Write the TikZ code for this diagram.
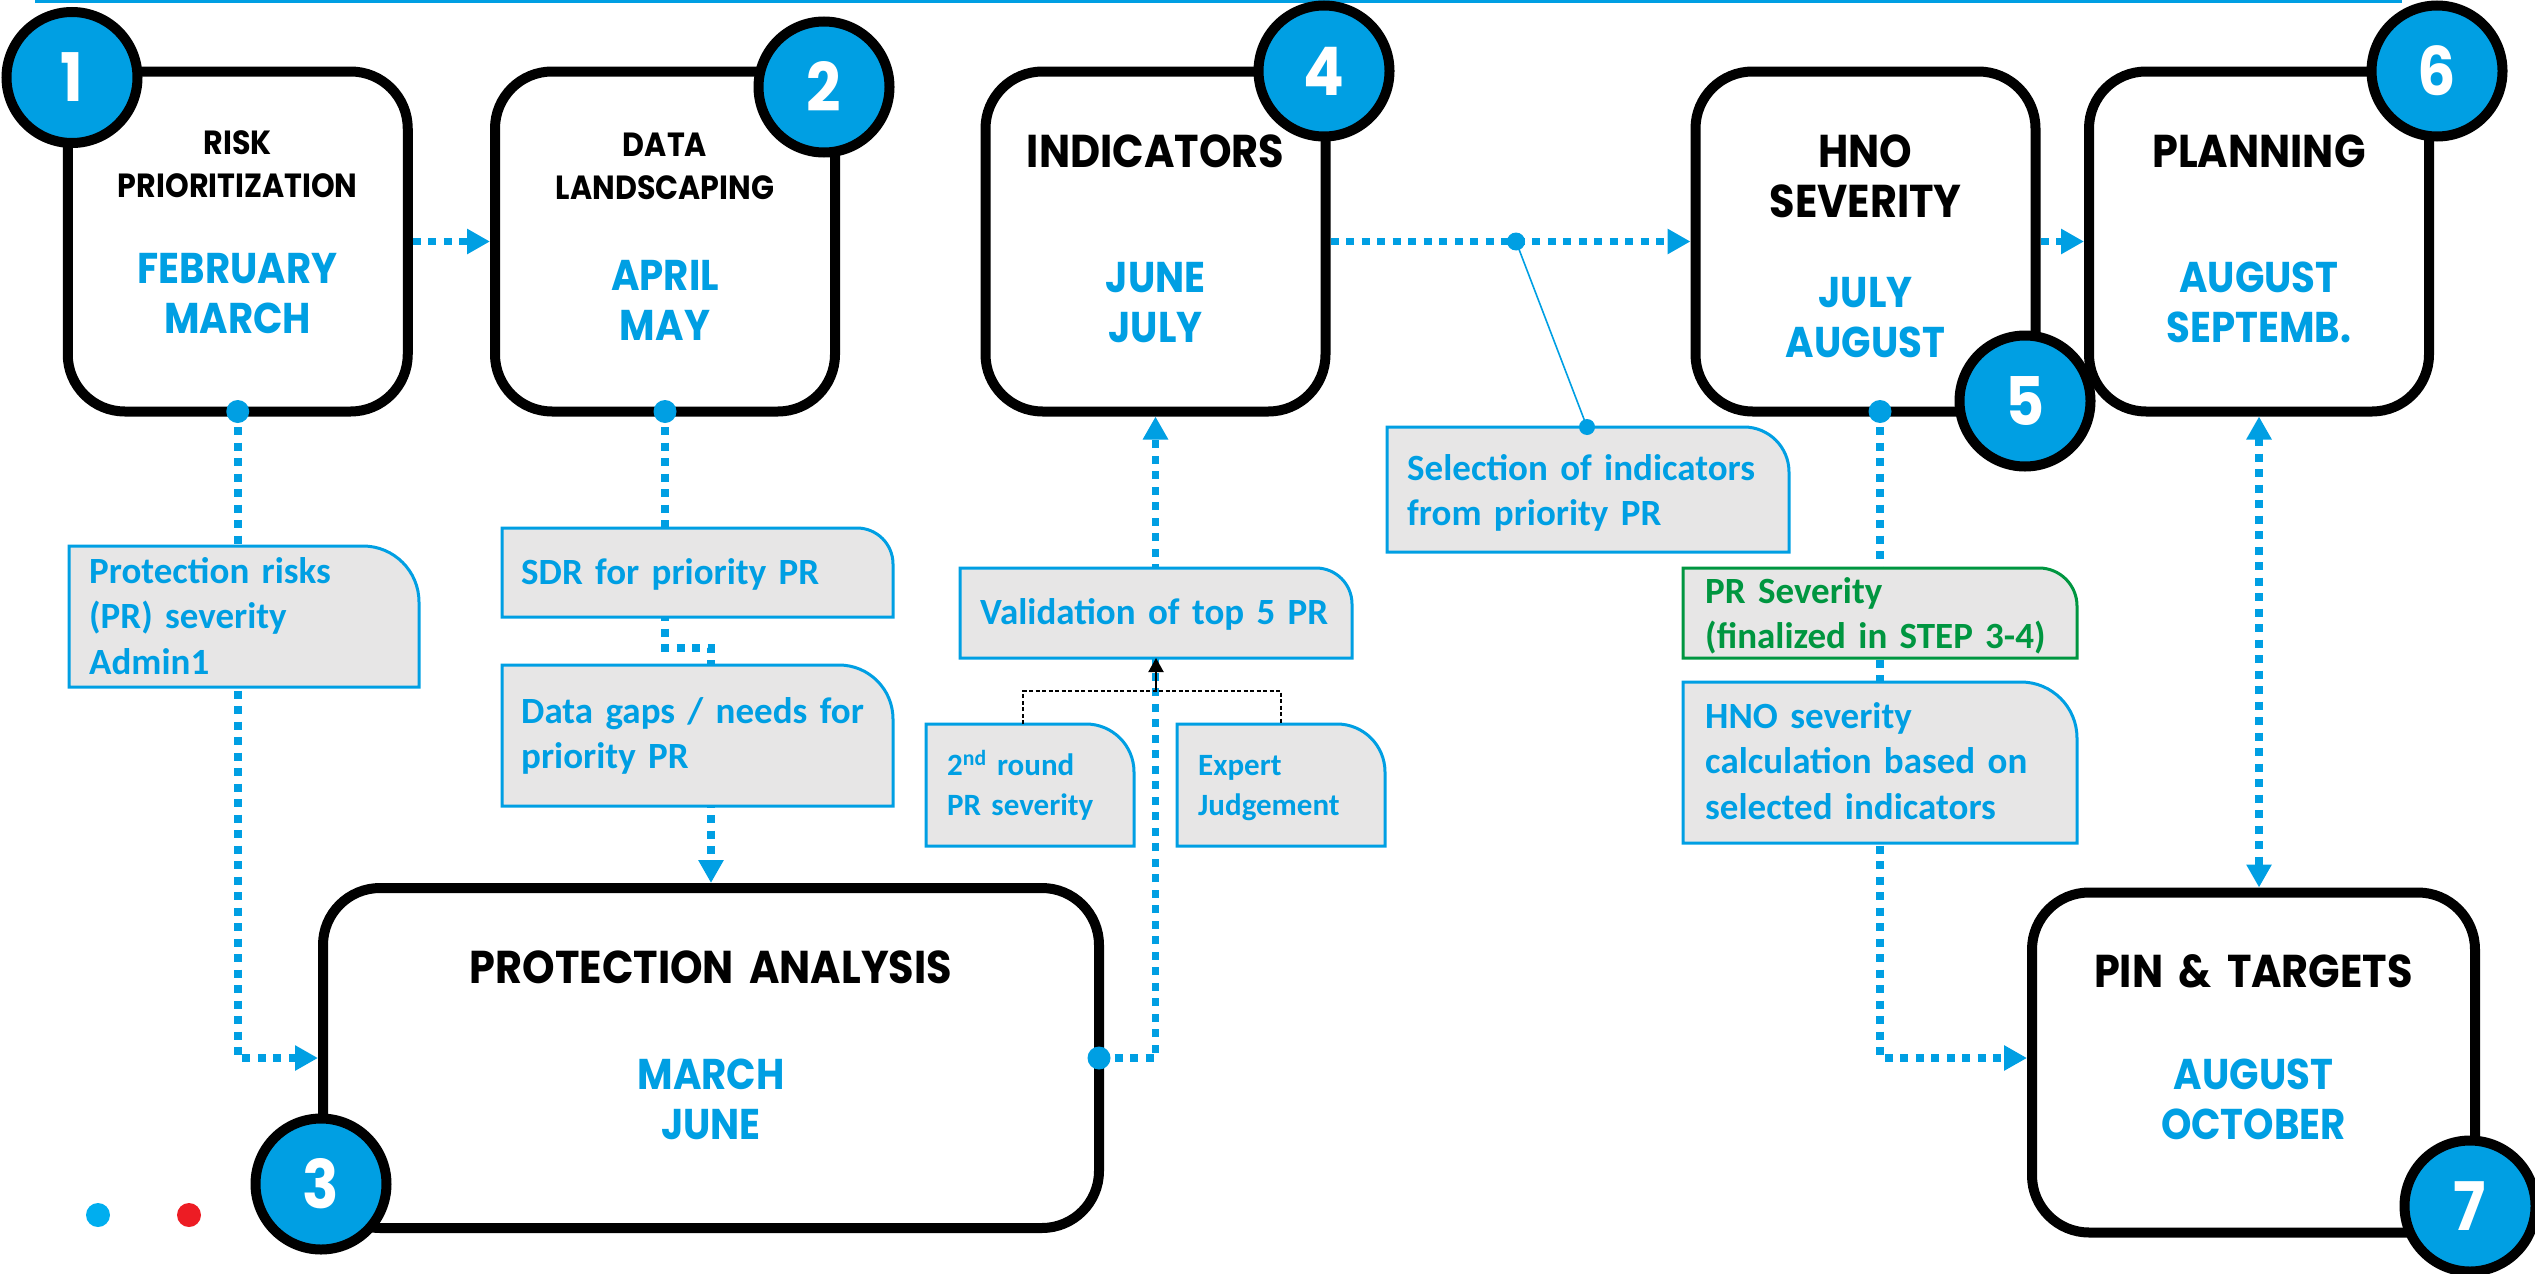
\documentclass[tikz,border=0pt]{standalone}
\usepackage{fontspec}
\usetikzlibrary{arrows.meta,calc}
\newfontfamily\headfont[FakeStretch=0.9]{Poppins}
\newfontfamily\callfont{Carlito}
\definecolor{cblue}{RGB}{0,159,227}
\definecolor{cgray}{RGB}{231,230,230}
\definecolor{cgreen}{RGB}{0,150,64}
\definecolor{lblue}{RGB}{0,174,239}
\definecolor{lred}{RGB}{237,28,36}
\newcommand\callshape[3]{%
  \filldraw[draw=#1, fill=cgray, line width=3pt] (#2.south west) -- (#2.north west) -- ([xshift=-#3 pt]#2.north east) arc[start angle=90, end angle=0, radius=#3 pt] -- (#2.south east) -- cycle;}
\tikzset{
  stage/.style={draw=black, fill=white, line width=10pt, rounded corners=57pt, minimum width=340pt, minimum height=340pt, inner sep=0pt},
  numc/.style={circle, draw=black, fill=cblue, line width=10pt, minimum size=131pt, inner sep=0pt, text=white, font=\headfont\bfseries\fontsize{67}{67}\selectfont},
  ttl/.style={anchor=base, text width=330pt, align=center, inner sep=0pt, font=\headfont\bfseries\fontsize{46}{50}\selectfont},
  ttlsm/.style={ttl, font=\headfont\bfseries\fontsize{33.5}{43}\selectfont},
  mon/.style={ttl, text=cblue, font=\headfont\bfseries\fontsize{43}{50}\selectfont},
  flow/.style={draw=cblue, line width=7.5pt, dash pattern=on 8pt off 7.5pt},
  tip/.style={-{Triangle[length=23pt,width=24pt]}},
  cbox/.style={inner sep=0pt, outer sep=0pt},
  ctext/.style={anchor=base west, text width=400pt, align=left, inner sep=0pt, text=cblue, font=\callfont\bfseries\fontsize{37}{45.5}\selectfont},
  csmall/.style={ctext, font=\callfont\bfseries\fontsize{31}{40}\selectfont},
  dot/.style={circle, fill=cblue, inner sep=0pt, minimum size=23pt},
  blkdash/.style={draw=black, line width=1.3pt, dash pattern=on 4pt off 2.5pt},
}
\begin{document}
\begin{tikzpicture}[x=1pt,y=1pt]
\useasboundingbox (0,0) rectangle (2535,-1274);
\coordinate (tl) at (35,-1.5);
\coordinate (tr) at (2402,-1.5);
\draw[cblue, line width=3pt] (tl) -- (tr);

% stage boxes
\node[stage] (box1) at (237.75,-241.5) {};
\node[stage] (box2) at (665,-241.5) {};
\node[stage, minimum width=776pt] (box3) at (711,-1058) {};
\node[stage] (box4) at (1155.5,-241.5) {};
\node[stage] (box5) at (1865.5,-241.5) {};
\node[stage] (box6) at (2259,-241.5) {};
\node[stage, minimum width=443pt] (box7) at (2253.5,-1062.5) {};

% connector anchor points
\coordinate (d1) at ([yshift=5pt]box1.south);
\coordinate (d2) at ([yshift=5pt]box2.south);
\coordinate (d3) at ([xshift=-5pt]box3.east);
\coordinate (d5) at (1880,-411.5);
\coordinate (dm) at (1516,-241.5);
\coordinate (e2) at (665,-648);

% flows
\draw[flow, tip] (d1) |- (box3.west);
\draw[flow, tip] (d2) -- (e2) -| (box3.north);
\draw[flow, tip] (d3) -| (box4.south);
\draw[flow, tip] (box1.east) -- (box2.west);
\draw[flow, tip] (box4.east) -- (box5.west);
\draw[flow, tip] (box5.east) -- (box6.west);
\draw[flow, tip] (d5) |- ([yshift=4.5pt]box7.west);
\draw[flow, {Triangle[length=23pt,width=24pt]}-{Triangle[length=23pt,width=24pt]}] (box6.south) -- (box6.south |- box7.north);

% callout shapes
\node[cbox, minimum width=350pt, minimum height=141pt] (cA) at (244,-616.5) {};
\node[cbox, minimum width=391pt, minimum height=89pt] (cSDR) at (697.5,-572.5) {};
\node[cbox, minimum width=391pt, minimum height=141pt] (cGaps) at (697.5,-735.5) {};
\node[cbox, minimum width=402pt, minimum height=125pt] (cSel) at (1588,-489.5) {};
\node[cbox, minimum width=392pt, minimum height=90pt] (cVal) at (1156,-613) {};
\node[cbox, minimum width=208pt, minimum height=122pt] (c2nd) at (1030,-785) {};
\node[cbox, minimum width=208pt, minimum height=122pt] (cExp) at (1281,-785) {};
\node[cbox, minimum width=394pt, minimum height=90pt] (cPR) at (1880,-613) {};
\node[cbox, minimum width=394pt, minimum height=161pt] (cHNO) at (1880,-762.5) {};
\callshape{cblue}{cA}{56}
\callshape{cblue}{cSDR}{36}
\callshape{cblue}{cGaps}{54}
\callshape{cblue}{cSel}{45}
\callshape{cblue}{cVal}{36}
\callshape{cblue}{c2nd}{48}
\callshape{cblue}{cExp}{48}
\callshape{cgreen}{cPR}{38}
\callshape{cblue}{cHNO}{56}

% callout texts
\node[ctext] (tA) at (89,-583) {Protection risks\\(PR) severity\\Admin1};
\node[ctext] (tSDR) at (521,-584) {SDR for priority PR};
\node[ctext] (tGaps) at (521,-723) {Data gaps / needs for\\priority PR};
\node[ctext] (tSel) at (1407,-480) {Selection of indicators\\from priority PR};
\node[ctext] (tVal) at (980,-624) {Validation of top 5 PR};
\node[csmall] (t2nd) at (947,-775) {2\textsuperscript{nd} round\\PR severity};
\node[csmall] (tExp) at (1198,-775) {Expert\\Judgement};
\node[ctext, text=cgreen] (tPR) at (1705,-603) {PR Severity\\(finalized in STEP 3-4)};
\node[ctext] (tHNO) at (1705,-728) {HNO severity\\calculation based on\\selected indicators};

% black merge connector
\coordinate (jn) at (1156,-691);
\draw[blkdash] ([xshift=-7pt]c2nd.north) |- (cExp.north |- jn) -- (cExp.north);
\draw[black, line width=2pt, -{Triangle[length=14pt,width=15pt]}] (jn) -- (cVal.south);

% thin link to selection callout
\coordinate (ds) at (1587,-427);
\draw[cblue, line width=1.6pt] (dm) -- (ds);

% dots
\node[dot] (p1) at (d1) {};
\node[dot] (p2) at (d2) {};
\node[dot] (p3) at (d3) {};
\node[dot] (p5) at (d5) {};
\node[dot, minimum size=18pt] (pm) at (dm) {};
\node[dot, minimum size=16pt] (ps) at (ds) {};

% box texts
\node[ttlsm] (t1) at (237.75,-154) {RISK\\PRIORITIZATION};
\node[mon] (m1) at (237.75,-283) {FEBRUARY\\MARCH};
\node[ttlsm] (t2) at (665,-156) {DATA\\LANDSCAPING};
\node[mon] (m2) at (665,-290) {APRIL\\MAY};
\node[ttl] (t4) at (1155.5,-167) {INDICATORS};
\node[mon] (m4) at (1155.5,-292) {JUNE\\JULY};
\node[ttl] (t5) at (1865.5,-167) {HNO\\SEVERITY};
\node[mon] (m5) at (1865.5,-307) {JULY\\AUGUST};
\node[ttl] (t6) at (2259,-167) {PLANNING};
\node[mon] (m6) at (2259,-292) {AUGUST\\SEPTEMB.};
\node[ttl, text width=700pt] (t3) at (711,-983) {PROTECTION ANALYSIS};
\node[mon] (m3) at (711,-1089) {MARCH\\JUNE};
\node[ttl, text width=430pt] (t7) at (2253.5,-987) {PIN \& TARGETS};
\node[mon] (m7) at (2253.5,-1089) {AUGUST\\OCTOBER};

% number circles
\node[numc] (n1) at (72,-77.5) {1};
\node[numc] (n2) at (824,-87) {2};
\node[numc] (n3) at (321,-1184) {3};
\node[numc] (n4) at (1324,-71) {4};
\node[numc] (n5) at (2025,-401) {5};
\node[numc] (n6) at (2437,-71) {6};
\node[numc] (n7) at (2470,-1206) {7};

% legend dots
\node[circle, fill=lblue, inner sep=0pt, minimum size=24pt] (lg1) at (98,-1215) {};
\node[circle, fill=lred, inner sep=0pt, minimum size=24pt] (lg2) at (189,-1215) {};
\end{tikzpicture}
\end{document}
